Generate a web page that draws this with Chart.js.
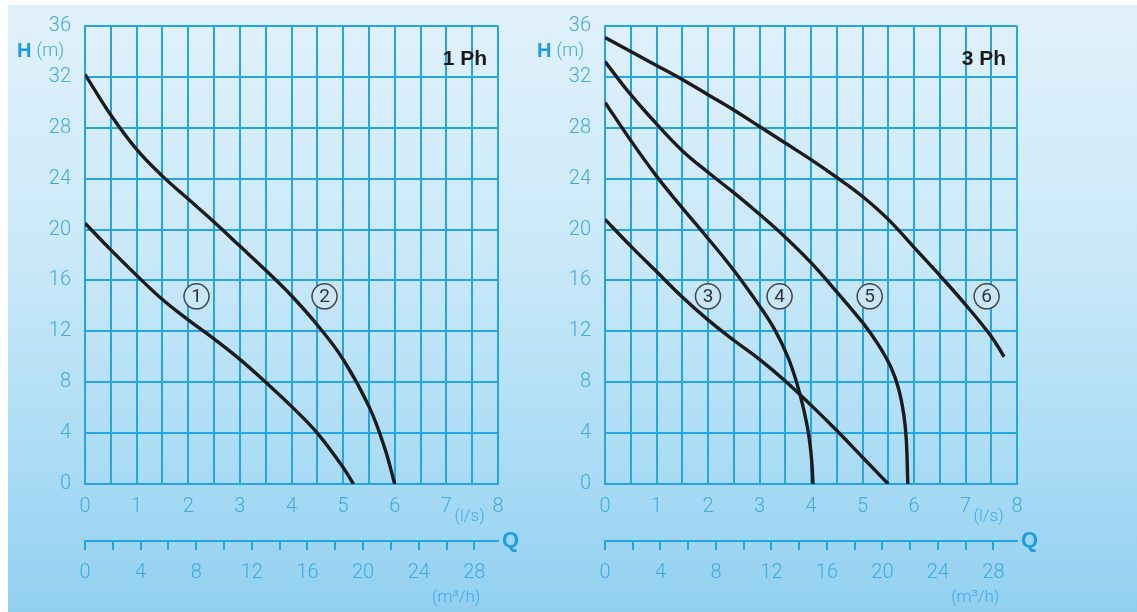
<!DOCTYPE html>
<html>
<head>
<meta charset="utf-8">
<script src="https://cdn.jsdelivr.net/npm/chart.js@4.4.0/dist/chart.umd.min.js"></script>
<style>
  html, body { margin: 0; padding: 0; background: #fff; }
  #page { position: relative; width: 1137px; height: 612px; overflow: hidden; }
  #panel { position: absolute; left: 8px; top: 5px; right: 0; bottom: 0;
    background: linear-gradient(to bottom, #e1f1fb 0%, #cbe9f9 40%, #abdcf5 75%, #92d0f0 100%); }
  canvas { position: absolute; top: 0; }
  #left { left: 0; }
  #right { left: 528px; }
</style>
</head>
<body>
<div id="page">
  <div id="panel"></div>
  <canvas id="left" width="528" height="612"></canvas>
  <canvas id="right" width="609" height="612"></canvas>
</div>
<script>
// pump curves, Q in l/s and H in m
const c1Q = [0, 0.5, 1, 1.5, 2, 2.5, 3, 3.5, 4, 4.5, 5, 5.2];
const c1H = [20.5, 18.4, 16.4, 14.5, 12.9, 11.4, 9.8, 8.0, 6.1, 4.0, 1.3, 0];
const c2Q = [0, 0.5, 1, 1.5, 2, 2.5, 3, 3.5, 4, 4.5, 5, 5.5, 5.8, 6];
const c2H = [32.2, 29.0, 26.3, 24.2, 22.4, 20.6, 18.7, 16.8, 14.8, 12.5, 9.8, 6.1, 2.9, 0];

const c3Q = [0, 0.5, 1, 1.5, 2, 2.5, 3, 3.5, 4, 4.5, 5, 5.5];
const c3H = [20.8, 18.7, 16.7, 14.7, 12.9, 11.3, 9.8, 8.1, 6.2, 4.2, 2.1, 0];
const c4Q = [0, 0.5, 1, 1.5, 2, 2.5, 3, 3.3, 3.55, 3.72, 3.85, 3.95, 4.01, 4.04];
const c4H = [30.0, 27.0, 24.2, 21.7, 19.3, 16.8, 14.0, 12.1, 10.0, 8.0, 6.0, 4.0, 2.0, 0];
const c5Q = [0, 0.5, 1, 1.5, 2, 2.5, 3, 3.5, 4, 4.5, 5, 5.3, 5.55, 5.7, 5.8, 5.85, 5.88];
const c5H = [33.2, 30.6, 28.3, 26.2, 24.5, 22.9, 21.2, 19.4, 17.4, 15.1, 12.7, 11.0, 9.2, 7.5, 5.5, 3.5, 0];
const c6Q = [0, 0.5, 1, 1.5, 2, 2.5, 3, 3.5, 4, 4.5, 5, 5.5, 6, 6.5, 7, 7.5, 7.75];
const c6H = [35.1, 34.0, 32.9, 31.8, 30.6, 29.4, 28.1, 26.8, 25.5, 24.1, 22.6, 20.8, 18.6, 16.4, 14.1, 11.6, 10.0];

// curve numbers (circled), placed in data units
const tags1 = ['1', '2'];
const tags1Q = [2.16, 4.64];
const tags3 = ['3', '4', '5', '6'];
const tags3Q = [2.0, 3.39, 5.14, 7.41];
const tagH = 14.75;

const gridBlue = '#22a6e6';
const tickBlue = '#3eaae4';
const headBlue = '#1d9de0';
const curveInk = '#1b1b1b';
const thin = { family: 'Roboto, "Liberation Sans", sans-serif', size: 20, weight: 300 };

function pts(q, h) {
  return q.map((v, i) => ({ x: v, y: h[i] }));
}

const notes = {
  id: 'notes',
  afterDraw(chart) {
    const o = chart.options.plugins.notes;
    const { ctx, chartArea: a } = chart;
    const { x, y, x2 } = chart.scales;
    ctx.save();
    ctx.textBaseline = 'middle';

    // H (m)
    ctx.textAlign = 'left';
    ctx.fillStyle = headBlue;
    ctx.font = 'bold 20px "Liberation Sans"';
    const hx = a.left - 68, hy = y.getPixelForValue(34);
    ctx.fillText('H', hx, hy);
    const hw = ctx.measureText('H').width + 5;
    ctx.fillStyle = tickBlue;
    ctx.font = '300 18px Roboto';
    ctx.fillText('(m)', hx + hw, hy);

    // phase label
    ctx.textAlign = 'right';
    ctx.fillStyle = '#1a1a1a';
    ctx.font = 'bold 21px "Liberation Sans"';
    ctx.fillText(o.phase, a.right - 11, a.top + 33);

    // units
    ctx.fillStyle = tickBlue;
    ctx.font = '300 17px Roboto';
    ctx.textAlign = 'center';
    ctx.fillText('(l/s)', x.getPixelForValue(7.45), a.bottom + 33);
    ctx.textAlign = 'right';
    ctx.fillText('(m³/h)', x2.getPixelForValue(28) + 6, x2.top + 57);

    // Q
    ctx.textAlign = 'left';
    ctx.fillStyle = headBlue;
    ctx.font = 'bold 22px "Liberation Sans"';
    ctx.fillText('Q', a.right + 4, x2.top);

    // circled curve numbers
    o.tags.forEach((t, i) => {
      const cx = x.getPixelForValue(o.tagQ[i]);
      const cy = y.getPixelForValue(tagH);
      ctx.beginPath();
      ctx.arc(cx, cy, 12.5, 0, Math.PI * 2);
      ctx.fillStyle = '#c8e8f9';
      ctx.fill();
      ctx.lineWidth = 1.5;
      ctx.strokeStyle = '#444';
      ctx.stroke();
      ctx.fillStyle = '#333';
      ctx.font = '19px Roboto';
      ctx.textAlign = 'center';
      ctx.fillText(t, cx, cy + 1);
    });
    ctx.restore();
  }
};

function pumpChart(id, curves, phase, tags, tagQ, yWidth, padRight) {
  return new Chart(id, {
    type: 'scatter',
    data: {
      datasets: curves.map(c => ({
        data: c,
        showLine: true,
        borderColor: curveInk,
        borderWidth: 3.4,
        pointRadius: 0,
        tension: 0.4,
        fill: false
      }))
    },
    options: {
      responsive: false,
      animation: false,
      layout: { padding: { top: 19, right: padRight, left: 0, bottom: 0 } },
      plugins: {
        legend: { display: false },
        tooltip: { enabled: false },
        notes: { phase: phase, tags: tags, tagQ: tagQ }
      },
      scales: {
        x: {
          type: 'linear', position: 'bottom', min: 0, max: 8,
          ticks: {
            stepSize: 0.5, autoSkip: false, maxRotation: 0, padding: 11,
            color: tickBlue, font: thin,
            callback: v => Number.isInteger(v) ? v : ''
          },
          grid: { color: gridBlue, lineWidth: 2, drawTicks: false },
          border: { color: gridBlue, width: 2 },
          afterFit: s => { s.height = 57; }
        },
        x2: {
          type: 'linear', axis: 'x', position: 'bottom', min: 0, max: 29.7,
          ticks: {
            stepSize: 2, includeBounds: false, autoSkip: false, maxRotation: 0, padding: 11,
            color: tickBlue, font: thin,
            callback: v => v % 4 === 0 ? v : ''
          },
          grid: { drawOnChartArea: false, color: gridBlue, lineWidth: 2, tickLength: 9 },
          border: { color: gridBlue, width: 2 },
          afterFit: s => { s.height = 71; }
        },
        y: {
          min: 0, max: 36,
          ticks: {
            stepSize: 2, padding: 14, color: tickBlue, font: thin,
            callback: v => v % 4 === 0 ? v : ''
          },
          grid: { color: gridBlue, lineWidth: 2, drawTicks: false },
          border: { color: gridBlue, width: 2 },
          afterFit: s => { s.width = yWidth; }
        }
      }
    },
    plugins: [notes]
  });
}

pumpChart('left', [pts(c1Q, c1H), pts(c2Q, c2H)], '1 Ph', tags1, tags1Q, 85, 30);
pumpChart('right', [pts(c3Q, c3H), pts(c4Q, c4H), pts(c5Q, c5H), pts(c6Q, c6H)], '3 Ph', tags3, tags3Q, 77, 120);
</script>
</body>
</html>
